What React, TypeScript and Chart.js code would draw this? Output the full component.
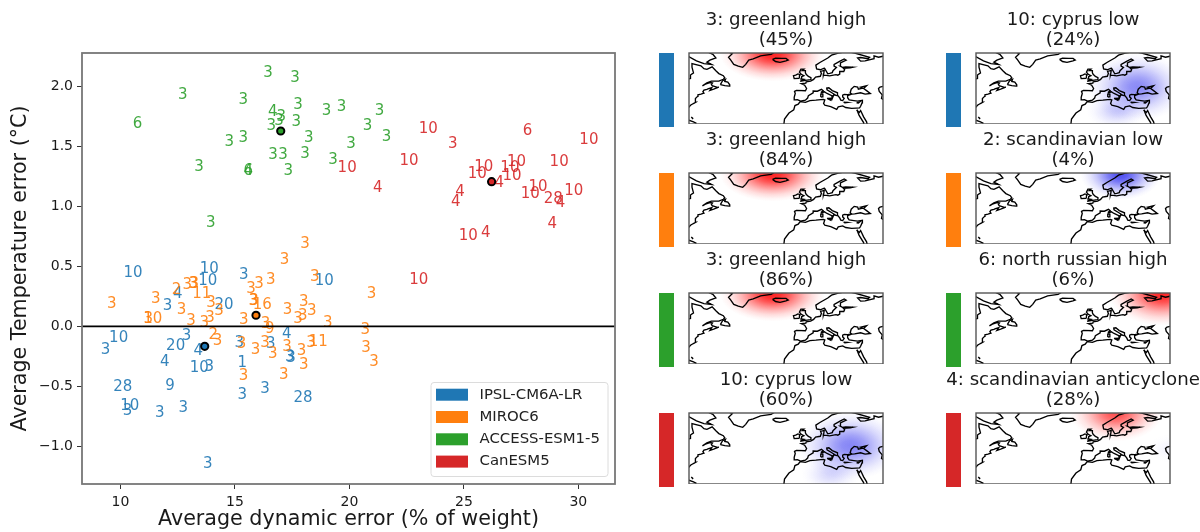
import React, { useEffect, useRef } from "react";
import { Chart, registerables } from "chart.js";

Chart.register(...registerables);

const FONT = "'DejaVu Sans', sans-serif";

const modelNames = ["IPSL-CM6A-LR", "MIROC6", "ACCESS-ESM1-5", "CanESM5"];
const modelColors = ["#1f77b4", "#ff7f0e", "#2ca02c", "#d62728"];
const textColors = ["rgba(31,119,180,0.9)", "rgba(255,127,14,0.9)", "rgba(44,160,44,0.9)", "rgba(214,39,40,0.9)"];

const ipslDyn = [10.55, 13.88, 13.81, 15.39, 12.5, 12.06, 14.52, 9.92, 9.35, 12.89, 12.41, 13.4, 15.19, 16.57, 11.93, 13.44, 13.88, 15.32, 10.1, 12.17, 10.41, 10.31, 11.72, 12.74, 15.32, 16.31, 13.81, 17.26, 17.4, 17.45, 18.9, 17.97];
const ipslTemp = [0.456, 0.489, 0.387, 0.437, 0.284, 0.178, 0.187, -0.083, -0.183, -0.069, -0.155, -0.191, -0.128, -0.136, -0.288, -0.336, -0.33, -0.294, -0.497, -0.483, -0.655, -0.697, -0.711, -0.672, -0.561, -0.511, -1.133, -0.049, -0.247, -0.253, 0.387, -0.588];
const ipslRegime = ["10", "10", "10", "3", "4", "3", "20", "10", "3", "3", "20", "4", "3", "3", "4", "10", "3", "1", "28", "9", "10", "3", "3", "3", "3", "3", "3", "4", "3", "3", "10", "28"];

const mirocDyn = [9.62, 11.54, 12.45, 12.92, 13.18, 13.22, 13.55, 12.67, 13.95, 14.31, 11.21, 11.41, 13.08, 13.66, 13.91, 14.05, 14.24, 15.39, 15.7, 16.05, 16.56, 15.8, 15.83, 16.19, 16.34, 16.52, 15.29, 15.9, 16.31, 16.65, 15.38, 18.06, 17.17, 18.49, 20.97, 18.01, 17.3, 18.36, 17.96, 17.75, 19.06, 20.69, 18.64, 18.32, 17.27, 20.72, 17.91, 21.07, 18.01, 17.13];
const mirocTemp = [0.198, 0.243, 0.318, 0.359, 0.364, 0.364, 0.284, 0.151, 0.206, 0.137, 0.073, 0.073, 0.053, 0.039, 0.078, -0.063, -0.113, 0.062, 0.326, 0.364, 0.401, 0.22, 0.22, 0.187, 0.028, -0.011, -0.133, -0.183, -0.128, -0.219, -0.399, 0.698, 0.562, 0.42, 0.281, 0.218, 0.145, 0.139, 0.101, 0.073, 0.043, -0.016, -0.122, -0.13, -0.161, -0.172, -0.194, -0.288, -0.313, -0.391];
const mirocRegime = ["3", "3", "2", "3", "3", "3", "11", "3", "3", "3", "3", "10", "3", "3", "3", "2", "3", "3", "3", "3", "3", "3", "3", "16", "3", "9", "3", "3", "3", "3", "3", "3", "3", "3", "3", "3", "3", "3", "3", "3", "3", "3", "11", "3", "3", "3", "3", "3", "3", "3"];

const accessDyn = [16.45, 17.62, 12.72, 15.36, 10.75, 17.75, 19.0, 19.66, 16.65, 17.02, 16.92, 16.59, 17.68, 15.36, 14.75, 18.22, 20.07, 16.66, 17.1, 18.06, 19.28, 13.43, 15.58, 15.58, 17.33, 13.94, 21.32, 20.79, 21.62];
const accessTemp = [2.12, 2.08, 1.94, 1.9, 1.7, 1.86, 1.81, 1.84, 1.795, 1.756, 1.72, 1.684, 1.718, 1.58, 1.548, 1.578, 1.534, 1.443, 1.437, 1.445, 1.4, 1.34, 1.303, 1.303, 1.309, 0.873, 1.81, 1.68, 1.593];
const accessRegime = ["3", "3", "3", "3", "6", "3", "3", "3", "4", "3", "3", "3", "3", "3", "3", "3", "3", "3", "3", "3", "3", "3", "4", "6", "3", "3", "3", "3", "3"];

const canDyn = [23.44, 24.51, 27.78, 30.46, 22.6, 19.9, 25.87, 25.58, 27.3, 27.01, 27.1, 29.16, 21.24, 26.54, 24.83, 24.64, 28.24, 27.9, 29.8, 28.9, 29.22, 28.86, 25.96, 25.19, 23.03];
const canTemp = [1.656, 1.528, 1.637, 1.562, 1.387, 1.331, 1.339, 1.278, 1.384, 1.334, 1.268, 1.378, 1.164, 1.203, 1.134, 1.048, 1.176, 1.112, 1.137, 1.07, 1.039, 0.862, 0.789, 0.762, 0.4];
const canRegime = ["10", "3", "6", "10", "10", "10", "10", "10", "10", "10", "10", "10", "4", "4", "4", "4", "10", "10", "10", "28", "4", "4", "4", "10", "10"];

const meanDyn = [13.68, 15.92, 17.0, 26.21];
const meanTemp = [-0.166, 0.093, 1.628, 1.206];

// Coastlines as [lon, lat] lines
const coastLines: number[][][] = [
  // North America
  [[-81, 31], [-80, 32], [-79, 33.2], [-77.9, 33.9], [-76.5, 34.7], [-75.5, 35.3], [-75.9, 36.9], [-75.5, 38], [-74.2, 39.5], [-74, 40.6], [-72, 41], [-70, 41.7], [-70.7, 42.7], [-70, 43.8], [-68, 44.4], [-66.9, 44.9], [-64.8, 45.6], [-66, 43.7], [-63.5, 44.6], [-60, 46], [-61, 45.8], [-64.5, 47], [-65, 48], [-64.3, 48.9], [-66, 49.2], [-69, 48], [-71, 46.9], [-68, 49], [-65, 50.2], [-60, 50.2], [-57, 51.5], [-56, 52.5], [-57, 54], [-60, 55.5], [-62, 57.5], [-64.5, 60.3], [-68, 58.5], [-70, 59], [-72, 61], [-78, 62.5], [-78, 60], [-77, 56], [-79, 54.5], [-79, 52], [-81, 51.5]],
  // Baffin
  [[-81, 68], [-75, 64.5], [-70, 62.5], [-65, 62], [-68, 63.5], [-66, 65], [-62, 66.5], [-64, 69], [-68, 71]],
  // Newfoundland
  [[-59, 47.7], [-56, 47], [-53, 46.7], [-52.7, 47.6], [-54, 49.5], [-56, 50], [-55.5, 51.5], [-57.5, 50.5], [-59, 47.7]],
  // Caribbean
  [[-81, 23], [-77, 21.5], [-75, 20.5]],
  [[-78.5, 25], [-77.5, 24], [-78, 23.5]],
  // Greenland
  [[-54, 71], [-51, 69.5], [-53.5, 67], [-52, 65], [-50, 62], [-47, 60.8], [-44, 59.9], [-42, 62], [-40, 65], [-37, 65.8], [-32, 68], [-25, 69], [-22, 71]],
  // Iceland
  [[-24, 65.5], [-22, 64], [-19, 63.4], [-15, 64.4], [-13.5, 65], [-15, 66.2], [-18, 66.2], [-22, 66.4], [-24, 65.5]],
  // Africa and Eurasia
  [[-17, 19], [-16.4, 20], [-16, 23.5], [-13, 27.7], [-9.8, 30], [-9, 33], [-6.8, 34], [-5.5, 35.8], [-2, 35.2], [1, 36.5], [5, 36.8], [10, 37.3], [11, 36.9], [10.2, 34.5], [11, 33.2], [15, 32.3], [19, 30.3], [20, 32], [23, 32.7], [25, 31.6], [29, 31], [32, 31.2], [34.3, 31.3], [35, 32.5], [36, 35], [36.2, 36.7], [33, 36.1], [30.5, 36.5], [27.3, 37], [26.3, 38.5], [26.3, 40], [29, 41], [31, 41.2], [35, 42], [38, 41], [41.5, 41.5], [39, 43.5], [37, 45], [39, 47], [35, 46], [36.5, 45.3], [33.5, 44.5], [33, 46], [30.7, 46.5], [28.7, 44.5], [28, 42], [29, 41.2], [26.3, 40.7], [24, 40.8], [23, 40.3], [23, 39], [24, 38], [23, 36.5], [21.7, 36.8], [21, 38.4], [19.5, 40.3], [19.5, 42], [16, 43.5], [13.7, 45.5], [12.3, 45.3], [12.5, 44], [16, 41.8], [18.4, 40.2], [17, 40.5], [16.6, 39.5], [16, 38], [15.7, 40], [12.5, 41.5], [10.3, 43], [8.8, 44.4], [6, 43.1], [3.2, 43.2], [3.2, 41.9], [0, 40], [-0.5, 38.3], [-2, 36.8], [-5.3, 36.1], [-6.3, 36.7], [-7.4, 37.2], [-9, 37], [-9.5, 38.8], [-8.8, 41.5], [-9.3, 43], [-8, 43.7], [-2, 43.4], [-1.2, 45], [-2.5, 47.3], [-4.7, 48.4], [-1.7, 48.7], [-1.5, 49.7], [1.5, 50.2], [3.5, 51.4], [4.8, 53], [8, 53.6], [8.7, 55.5], [8.2, 57], [10.6, 57.7], [10.3, 55.5], [10, 54.3], [12, 54.2], [14.2, 53.9], [18.5, 54.8], [19.7, 54.4], [21, 55.2], [21, 57], [23.7, 57], [24.3, 58.3], [23.5, 59.2], [28, 59.5], [30, 60], [25, 60.2], [22.8, 59.9], [21.3, 60.8], [21.5, 63], [25.3, 65], [24, 65.8], [21.5, 64.5], [17.3, 62], [17.2, 60.7], [18.8, 59.8], [16.5, 57.5], [16, 56.2], [14.3, 55.6], [13, 55.4], [11, 59], [10.5, 59.3], [8, 58.2], [5.5, 58.8], [5, 61.5], [8, 63.5], [13, 66.5], [15.5, 68.5], [20, 70], [26, 71], [31, 70], [41, 67], [40, 66], [35, 66.8], [33, 66.5], [35, 64.3], [38, 64.5], [40, 65], [44, 66], [44, 68], [47, 67], [53, 68.5]],
  // Great Britain
  [[-5.5, 50], [-3, 50.6], [1.4, 51.2], [1.7, 52.7], [0, 53.5], [-1.5, 55], [-2, 56], [-2, 57.6], [-4, 57.7], [-3, 58.6], [-5, 58.6], [-6, 56.5], [-4.8, 55], [-3, 54], [-4.5, 53.3], [-4.5, 52.5], [-5, 51.7], [-3, 51.4], [-5.5, 50]],
  // Ireland
  [[-6, 52.2], [-6, 54], [-5.5, 54.7], [-7, 55.3], [-8.5, 54.4], [-10, 54], [-9.5, 52], [-6, 52.2]],
  // Mediterranean islands
  [[8.3, 39], [9.6, 39.2], [9.7, 41], [8.3, 41], [8.3, 39]],
  [[8.7, 41.5], [9.5, 42], [9.4, 43], [8.7, 42.5], [8.7, 41.5]],
  [[12.5, 38], [15.6, 38.2], [15.1, 36.7], [12.5, 38]],
  [[23.6, 35.4], [26.2, 35.2], [24.5, 34.9], [23.6, 35.4]],
  [[32.3, 34.9], [34.5, 35.6], [33.5, 34.7], [32.3, 34.9]],
  // Caspian
  [[52, 47], [48, 46], [47, 45], [47.5, 43], [49.5, 40.5], [49, 38], [50, 37.3], [52, 37]],
  // Red Sea
  [[32.5, 30], [34, 26], [37, 21], [37.3, 19]],
  [[32.5, 30], [34, 28], [35, 29.5], [37, 25], [39, 21.5], [39.6, 19]],
];

const panelTitles = ["3: greenland high", "3: greenland high", "3: greenland high", "10: cyprus low", "10: cyprus low", "2: scandinavian low", "6: north russian high", "4: scandinavian anticyclone"];
const panelShares = ["(45%)", "(84%)", "(86%)", "(60%)", "(24%)", "(4%)", "(6%)", "(28%)"];
const panelModel = [0, 1, 2, 3, 0, 1, 2, 3];

// Anomaly centres of each regime: lon, lat, reach in lon, reach in lat, strength (+ high, - low)
const blobLon = [[-24], [-24], [-24], [28, 15], [28, 14], [17], [45], [14, 50]];
const blobLat = [[69], [69], [69], [47, 27], [46, 29], [69], [70], [70, 45]];
const blobReachLon = [[35], [35], [35], [35, 20], [33, 20], [27], [36], [31, 15]];
const blobReachLat = [[19], [19], [19], [24, 13], [24, 13], [18], [23], [20, 10]];
const blobStrength = [[1], [1], [1], [-0.62, -0.2], [-0.6, -0.25], [-0.9], [1], [0.8, -0.06]];

const gaussStops = [0, 0.15, 0.3, 0.45, 0.6, 0.75, 0.9, 1];

const scatterLabels = {
  id: "scatterLabels",
  beforeDatasetsDraw(chart: any) {
    const ctx = chart.ctx;
    ctx.save();
    ctx.font = `15px ${FONT}`;
    ctx.textAlign = "center";
    ctx.textBaseline = "middle";
    chart.data.datasets.forEach((ds: any, i: number) => {
      if (!ds.regimes) return;
      const meta = chart.getDatasetMeta(i);
      ctx.fillStyle = ds.textColor;
      meta.data.forEach((pt: any, j: number) => ctx.fillText(ds.regimes[j], pt.x, pt.y + 1.5));
    });
    ctx.restore();
  },
};

const frame = {
  id: "frame",
  afterDraw(chart: any, _a: any, opts: any) {
    const { left, top, width, height } = chart.chartArea;
    const ctx = chart.ctx;
    ctx.save();
    ctx.strokeStyle = opts.color || "#666";
    ctx.lineWidth = opts.width || 1.5;
    ctx.strokeRect(left, top, width, height);
    ctx.restore();
  },
};

const modelLegend = {
  id: "modelLegend",
  afterDraw(chart: any) {
    const ctx = chart.ctx;
    ctx.save();
    ctx.fillStyle = "rgba(255,255,255,0.85)";
    ctx.strokeStyle = "#dcdcdc";
    ctx.lineWidth = 1;
    ctx.beginPath();
    ctx.roundRect(431, 382.5, 177, 94, 3);
    ctx.fill();
    ctx.stroke();
    ctx.font = `14.9px ${FONT}`;
    ctx.textBaseline = "middle";
    ctx.textAlign = "left";
    modelNames.forEach((name, i) => {
      const y = 394.7 + i * 22.3;
      ctx.fillStyle = modelColors[i];
      ctx.fillRect(436, y - 6, 32, 12);
      ctx.fillStyle = "#222";
      ctx.fillText(name, 479.5, y);
    });
    ctx.restore();
  },
};

const regimeHeat = {
  id: "regimeHeat",
  beforeDatasetsDraw(chart: any, _a: any, opts: any) {
    const { ctx, chartArea, scales } = chart;
    ctx.save();
    ctx.beginPath();
    ctx.rect(chartArea.left, chartArea.top, chartArea.width, chartArea.height);
    ctx.clip();
    const i = opts.index;
    blobLon[i].forEach((lon, b) => {
      const cx = scales.x.getPixelForValue(lon);
      const cy = scales.y.getPixelForValue(blobLat[i][b]);
      const rx = Math.abs(scales.x.getPixelForValue(lon + blobReachLon[i][b]) - cx);
      const ry = Math.abs(scales.y.getPixelForValue(blobLat[i][b] + blobReachLat[i][b]) - cy);
      const s = blobStrength[i][b];
      const rgb = s > 0 ? "255,35,35" : "60,60,240";
      ctx.save();
      ctx.translate(cx, cy);
      ctx.scale(rx, ry);
      const g = ctx.createRadialGradient(0, 0, 0, 0, 0, 1);
      gaussStops.forEach((t) => {
        const a = Math.abs(s) * Math.max(0, Math.exp(-t * t * 2.8) - Math.exp(-2.8)) / (1 - Math.exp(-2.8));
        g.addColorStop(t, `rgba(${rgb},${a.toFixed(3)})`);
      });
      ctx.fillStyle = g;
      ctx.beginPath();
      ctx.arc(0, 0, 1, 0, Math.PI * 2);
      ctx.fill();
      ctx.restore();
    });
    ctx.restore();
  },
};

const regimeTitle = {
  id: "regimeTitle",
  afterDraw(chart: any, _a: any, opts: any) {
    const ctx = chart.ctx;
    ctx.save();
    ctx.font = `18.2px ${FONT}`;
    ctx.fillStyle = "#1a1a1a";
    ctx.textAlign = "center";
    ctx.textBaseline = "middle";
    const cx = chart.width / 2;
    ctx.fillText(panelTitles[opts.index], cx, 20);
    ctx.fillText(panelShares[opts.index], cx, 40.5);
    ctx.restore();
  },
};

const axisText = "#1a1a1a";

function MainChart() {
  const ref = useRef<HTMLCanvasElement>(null);
  useEffect(() => {
    const series = [
      [ipslDyn, ipslTemp, ipslRegime],
      [mirocDyn, mirocTemp, mirocRegime],
      [accessDyn, accessTemp, accessRegime],
      [canDyn, canTemp, canRegime],
    ] as any[];
    const chart = new Chart(ref.current!, {
      type: "scatter",
      data: {
        datasets: [
          {
            label: "Model mean",
            data: meanDyn.map((x, i) => ({ x, y: meanTemp[i] })),
            backgroundColor: modelColors,
            borderColor: "#000",
            borderWidth: 2,
            pointRadius: 3.6,
          },
          {
            label: "Zero",
            type: "line",
            data: [{ x: 8.32, y: 0 }, { x: 31.6, y: 0 }],
            borderColor: "#000",
            borderWidth: 1.8,
            pointRadius: 0,
          },
          ...series.map((s, m) => ({
            label: modelNames[m],
            data: s[0].map((x: number, i: number) => ({ x, y: s[1][i] })),
            regimes: s[2],
            textColor: textColors[m],
            pointRadius: 0,
            backgroundColor: modelColors[m],
          })),
        ] as any,
      },
      options: {
        responsive: false,
        animation: false,
        layout: { padding: { top: 53, right: 25, left: 0, bottom: 0 } },
        plugins: {
          legend: { display: false },
          tooltip: { enabled: false },
          frame: { color: "#777", width: 1.8 },
        } as any,
        scales: {
          x: {
            type: "linear",
            min: 8.32,
            max: 31.6,
            afterFit: (s: any) => { s.height = 48; },
            grid: { drawOnChartArea: false, drawTicks: true, tickLength: 5, color: "#333" },
            border: { display: false },
            ticks: { stepSize: 5, includeBounds: false, maxRotation: 0, padding: 5, color: axisText, font: { family: FONT, size: 14 } },
            title: { display: true, text: "Average dynamic error (% of weight)", color: axisText, padding: { top: 0, bottom: 0 }, font: { family: FONT, size: 20.65 } },
          },
          y: {
            type: "linear",
            min: -1.313,
            max: 2.278,
            afterFit: (s: any) => { s.width = 82; },
            grid: { drawOnChartArea: false, drawTicks: true, tickLength: 5, color: "#333" },
            border: { display: false },
            ticks: {
              stepSize: 0.5,
              includeBounds: false,
              padding: 4,
              color: axisText,
              font: { family: FONT, size: 14 },
              callback: (v: any) => Number(v).toFixed(1).replace("-", "\u2212"),
            },
            title: { display: true, text: "Average Temperature error (\u00B0C)", color: axisText, padding: { top: 8, bottom: 0 }, font: { family: FONT, size: 20.65 } },
          },
        },
      },
      plugins: [scatterLabels, frame, modelLegend],
    });
    return () => chart.destroy();
  }, []);
  return <canvas ref={ref} width={640} height={532} style={{ position: "absolute", left: 0, top: 0 }} />;
}

function RegimePanel({ index, left, top }: { index: number; left: number; top: number }) {
  const ref = useRef<HTMLCanvasElement>(null);
  useEffect(() => {
    const chart = new Chart(ref.current!, {
      type: "scatter",
      data: {
        datasets: coastLines.map((line) => ({
          data: line.map(([x, y]) => ({ x, y })),
          showLine: true,
          borderColor: "#000",
          borderWidth: 1.35,
          pointRadius: 0,
          tension: 0,
        })) as any,
      },
      options: {
        responsive: false,
        animation: false,
        layout: { padding: { top: 53, left: 30, right: 30, bottom: 0 } },
        plugins: {
          legend: { display: false },
          tooltip: { enabled: false },
          regimeHeat: { index },
          regimeTitle: { index },
          frame: { color: "#555", width: 1.4 },
        } as any,
        scales: {
          x: { type: "linear", min: -80, max: 50, display: false },
          y: { type: "linear", min: 20, max: 70, display: false },
        },
      },
      plugins: [regimeHeat, frame, regimeTitle],
    });
    return () => chart.destroy();
  }, [index]);
  return <canvas ref={ref} width={254} height={124} style={{ position: "absolute", left, top }} />;
}

function ModelBar({ model, left, top }: { model: number; left: number; top: number }) {
  const ref = useRef<HTMLCanvasElement>(null);
  useEffect(() => {
    const chart = new Chart(ref.current!, {
      type: "bar",
      data: {
        labels: [modelNames[model]],
        datasets: [{ data: [1], backgroundColor: modelColors[model], barPercentage: 1, categoryPercentage: 1 }],
      },
      options: {
        responsive: false,
        animation: false,
        plugins: { legend: { display: false }, tooltip: { enabled: false } },
        scales: {
          x: { display: false },
          y: { display: false, min: 0, max: 1 },
        },
      },
    });
    return () => chart.destroy();
  }, [model]);
  return <canvas ref={ref} width={15} height={74} style={{ position: "absolute", left, top }} />;
}

const columnLeft = [658.5, 946];
const barLeft = [659, 946];
const rowTop = [0, 120, 240, 360];

export default function App() {
  return (
    <div style={{ position: "absolute", left: 0, top: 0, width: 1200, height: 532, overflow: "hidden", background: "#fff" }}>
      <MainChart />
      {panelModel.map((m, i) => {
        const col = i < 4 ? 0 : 1;
        const row = i % 4;
        return (
          <React.Fragment key={i}>
            <RegimePanel index={i} left={columnLeft[col]} top={rowTop[row]} />
            <ModelBar model={m} left={barLeft[col]} top={rowTop[row] + 53} />
          </React.Fragment>
        );
      })}
    </div>
  );
}
